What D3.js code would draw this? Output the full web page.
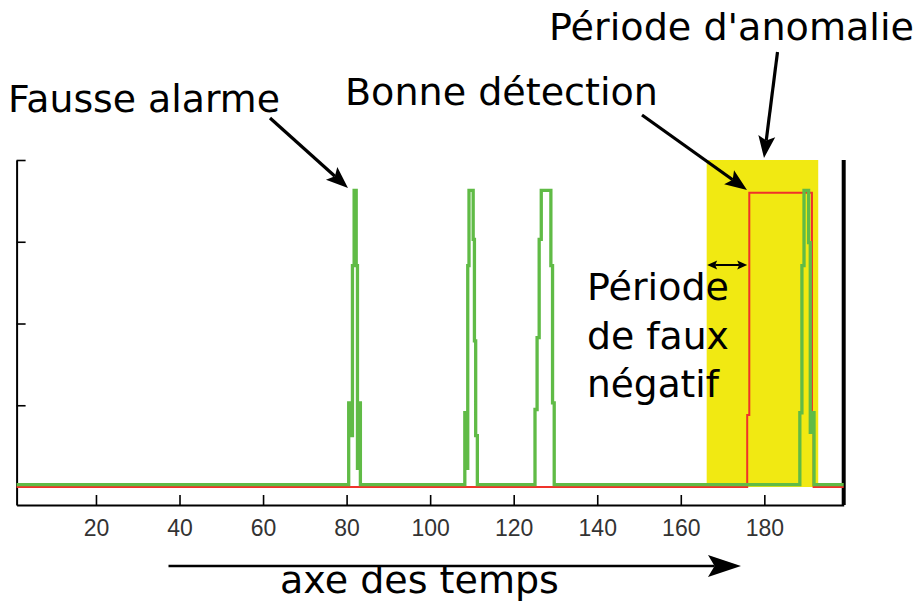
<!DOCTYPE html>
<html>
<head>
<meta charset="utf-8">
<script src="https://cdn.jsdelivr.net/npm/d3@7"></script>
<style>
  html, body { margin: 0; padding: 0; background: #fff; }
  svg { display: block; }
</style>
</head>
<body>
<svg id="chart" width="917" height="603"></svg>
<script>
// Axis extents and ticks
const timeDomain = [1, 199];
const levelDomain = [-0.055, 1];
const xTickValues = [20, 40, 60, 80, 100, 120, 140, 160, 180];
const yTickValues = [0.25, 0.5, 0.75, 1];

// Detector output: change points [time, level], each level held until the next change
const detectionChanges = [
  [1, 0],
  [80.5, 0.25], [81.0, 0.15], [81.4, 0.67], [81.8, 0.9], [82.3, 0.67], [82.6, 0.05], [82.9, 0.25], [83.3, 0],
  [108.3, 0.22], [108.75, 0.05], [109.0, 0.67], [109.3, 0.9], [110.3, 0.75], [110.6, 0.44], [110.9, 0.15], [111.3, 0],
  [125.1, 0.23], [125.6, 0.45], [126.1, 0.75], [126.6, 0.9], [128.9, 0.67], [129.3, 0.25], [129.7, 0],
  [188.5, 0.22], [189.0, 0.67], [189.5, 0.9], [190.6, 0.74], [191.0, 0.16], [191.4, 0.22], [191.9, 0],
  [199, 0]
];

// Ground-truth anomaly label: change points [time, level]
const anomalyChanges = [
  [1, 0], [175.9, 0.22], [176.4, 0.9], [191.4, 0.22], [191.8, 0], [199, 0]
];

// Highlighted anomaly window [start, end] in time units
const anomalyPeriod = [166.2, 192.9];

// Annotation texts
const labelFalseAlarm = "Fausse alarme";
const labelGoodDetection = "Bonne détection";
const labelAnomalyPeriod = "Période d'anomalie";
const labelFalseNegative = ["Période", "de faux", "négatif"];
const labelTimeAxis = "axe des temps";

const svg = d3.select("#chart");

const x = d3.scaleLinear().domain(timeDomain).range([16.6, 843.7]);
const y = d3.scaleLinear().domain(levelDomain).range([505, 160]);

// Anomaly window
svg.append("rect")
  .attr("x", x(anomalyPeriod[0]))
  .attr("y", y(1))
  .attr("width", x(anomalyPeriod[1]) - x(anomalyPeriod[0]))
  .attr("height", y(0) - y(1))
  .attr("fill", "#f1e912");

// Axes with inward ticks
const xAxis = d3.axisBottom(x)
  .tickValues(xTickValues)
  .tickSizeInner(-10)
  .tickSizeOuter(0)
  .tickPadding(15);

const gx = svg.append("g")
  .attr("transform", `translate(0,${y(levelDomain[0])})`)
  .call(xAxis);
gx.select(".domain").attr("stroke", "#000").attr("stroke-width", 2);
gx.selectAll(".tick line").attr("stroke", "#000").attr("stroke-width", 1.6);
gx.selectAll(".tick text")
  .attr("fill", "#333")
  .style("font-family", "'Liberation Sans', Arial, sans-serif")
  .style("font-size", "23px");

const yAxis = d3.axisLeft(y)
  .tickValues(yTickValues)
  .tickSizeInner(-9)
  .tickSizeOuter(0)
  .tickFormat("");

const gy = svg.append("g")
  .attr("transform", `translate(${x(timeDomain[0])},0)`)
  .call(yAxis);
gy.select(".domain").attr("stroke", "#000").attr("stroke-width", 2);
gy.selectAll(".tick line").attr("stroke", "#000").attr("stroke-width", 1.6);

// Right-hand frame edge
svg.append("line")
  .attr("x1", x(timeDomain[1])).attr("x2", x(timeDomain[1]))
  .attr("y1", y(levelDomain[0])).attr("y2", y(1))
  .attr("stroke", "#000").attr("stroke-width", 4);

// Stair traces
const stairs = d3.line()
  .x(d => x(d[0]))
  .y(d => y(d[1]))
  .curve(d3.curveStepAfter);

svg.append("path")
  .datum(anomalyChanges)
  .attr("d", stairs)
  .attr("fill", "none")
  .attr("stroke", "#f0322a")
  .attr("stroke-width", 2);

// Detector trace lifted slightly so both baselines stay visible
svg.append("path")
  .datum(detectionChanges)
  .attr("d", stairs)
  .attr("transform", "translate(0,-2.3)")
  .attr("fill", "none")
  .attr("stroke", "#60bb46")
  .attr("stroke-width", 3.3);

// Text sized so it spans [x0, x1]
function fittedText(text, x0, x1, baseline) {
  const t = svg.append("text")
    .attr("x", x0)
    .attr("y", baseline)
    .attr("fill", "#000")
    .style("font-family", "'DejaVu Sans', Verdana, sans-serif")
    .style("font-size", "100px")
    .text(text);
  const w = t.node().getComputedTextLength();
  t.style("font-size", (100 * (x1 - x0) / w) + "px");
  return t;
}

fittedText(labelFalseAlarm, 8, 280, 111.5);
fittedText(labelGoodDetection, 345, 658, 105);
fittedText(labelAnomalyPeriod, 549, 914, 40);
fittedText(labelFalseNegative[0], 587, 729, 300);
fittedText(labelFalseNegative[1], 587, 729, 349);
fittedText(labelFalseNegative[2], 587, 719, 397);
fittedText(labelTimeAxis, 280, 559, 593);

// Arrow with a notched head at the end point (and optionally the start)
function headPath(tx, ty, ux, uy, len, half, notch) {
  const bx = tx - ux * len, by = ty - uy * len;
  const nx = -uy, ny = ux;
  const mx = tx - ux * len * notch, my = ty - uy * len * notch;
  return `M${tx},${ty}L${bx + nx * half},${by + ny * half}L${mx},${my}L${bx - nx * half},${by - ny * half}Z`;
}

function arrow(x1, y1, x2, y2, width, len, half, both) {
  const dx = x2 - x1, dy = y2 - y1;
  const d = Math.hypot(dx, dy);
  const ux = dx / d, uy = dy / d;
  const notch = 0.8;
  const sx = both ? x1 + ux * len * notch : x1;
  const sy = both ? y1 + uy * len * notch : y1;
  svg.append("line")
    .attr("x1", sx).attr("y1", sy)
    .attr("x2", x2 - ux * len * notch).attr("y2", y2 - uy * len * notch)
    .attr("stroke", "#000").attr("stroke-width", width);
  svg.append("path").attr("d", headPath(x2, y2, ux, uy, len, half, notch)).attr("fill", "#000");
  if (both) {
    svg.append("path").attr("d", headPath(x1, y1, -ux, -uy, len, half, notch)).attr("fill", "#000");
  }
}

arrow(270, 118, 348, 188, 3.2, 22, 8.5, false);
arrow(642, 115, 747, 190, 3.2, 22, 8.5, false);
arrow(777.5, 52, 764, 158, 3.2, 22, 8.5, false);
arrow(x(anomalyPeriod[0]) + 0.5, 265, x(anomalyChanges[1][0]), 265, 2, 10, 4.5, true);
arrow(168.5, 566, 741, 566, 2.6, 33, 11, false);
</script>
</body>
</html>
